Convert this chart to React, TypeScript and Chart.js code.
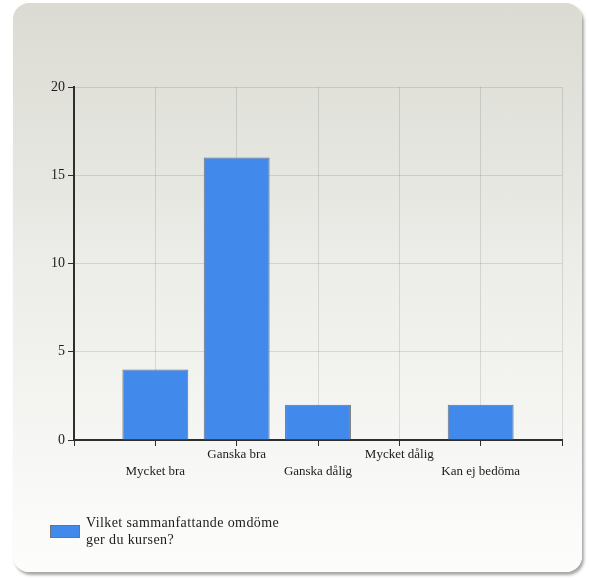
import React, { useEffect, useRef } from "react";
import { Chart, registerables } from "chart.js";

Chart.register(...registerables);

// ---- data ----
const categories = ["Mycket bra", "Ganska bra", "Ganska dålig", "Mycket dålig", "Kan ej bedöma"];
const counts = [4, 16, 2, 0, 2];
const seriesLabelLines = ["Vilket sammanfattande omdöme", "ger du kursen?"];
const yMin = 0;
const yMax = 20;
const yStep = 5;

// padded with empty slots on both ends so bars sit between the outer grid lines
const axisLabels = ["", ...categories, ""];
const axisValues: (number | null)[] = [null, ...counts, null];

const BAR_FILL = "#418aec";
const BAR_BORDER = "#727272";
const AXIS_COLOR = "#2e2e2e";
const GRID_COLOR = "rgba(0,0,0,0.11)";
const TEXT_COLOR = "#1c1c1c";
const SERIF = "'Liberation Serif', 'Times New Roman', serif";

const legendPlugin = {
  id: "blockLegend",
  afterDraw(chart: any) {
    const { ctx } = chart;
    const xScale = chart.scales.x;
    const ds = chart.data.datasets[0];
    const lineH = 17;
    const firstCenter = xScale.bottom + 43;
    const boxX = 50;
    const boxW = 30;
    const boxH = 13;
    const boxTop = firstCenter + lineH / 2 - boxH / 2;
    ctx.save();
    ctx.fillStyle = ds.backgroundColor;
    ctx.fillRect(boxX, boxTop, boxW, boxH);
    ctx.strokeStyle = ds.borderColor;
    ctx.lineWidth = 1;
    ctx.strokeRect(boxX + 0.5, boxTop + 0.5, boxW - 1, boxH - 1);
    ctx.fillStyle = TEXT_COLOR;
    ctx.font = `14px ${SERIF}`;
    try {
      (ctx as any).letterSpacing = "0.4px";
    } catch (e) {}
    ctx.textAlign = "left";
    ctx.textBaseline = "middle";
    seriesLabelLines.forEach((line, i) => {
      ctx.fillText(line, boxX + boxW + 6, firstCenter + i * lineH);
    });
    ctx.restore();
  },
};

export default function App() {
  const canvasRef = useRef<HTMLCanvasElement | null>(null);

  useEffect(() => {
    const canvas = canvasRef.current;
    if (!canvas) return;
    const chart = new Chart(canvas, {
      type: "bar",
      data: {
        labels: axisLabels,
        datasets: [
          {
            label: seriesLabelLines.join(" "),
            data: axisValues,
            backgroundColor: BAR_FILL,
            borderColor: BAR_BORDER,
            borderWidth: 1,
            categoryPercentage: 1,
            barPercentage: 0.81,
          },
        ],
      },
      options: {
        animation: false,
        responsive: false,
        maintainAspectRatio: false,
        layout: { padding: { top: 87, right: 27, bottom: 100, left: 0 } },
        plugins: {
          legend: { display: false },
          tooltip: { enabled: false },
        },
        scales: {
          x: {
            offset: false,
            grid: {
              offset: false,
              color: GRID_COLOR,
              tickColor: AXIS_COLOR,
              tickLength: 6,
            },
            border: { color: AXIS_COLOR, width: 2 },
            ticks: {
              autoSkip: false,
              maxRotation: 0,
              minRotation: 0,
              padding: 0,
              color: TEXT_COLOR,
              font: { family: SERIF, size: 13, lineHeight: 17 / 13 },
              callback: (_v: any, i: number) =>
                i % 2 === 1 ? ["", axisLabels[i]] : [axisLabels[i]],
            },
          },
          y: {
            min: yMin,
            max: yMax,
            grid: {
              color: GRID_COLOR,
              tickColor: AXIS_COLOR,
              tickLength: 6,
            },
            border: { color: AXIS_COLOR, width: 2 },
            ticks: {
              stepSize: yStep,
              padding: 3,
              color: TEXT_COLOR,
              font: { family: SERIF, size: 14 },
            },
            afterFit: (s: any) => {
              s.width = 74;
            },
          },
        },
      },
      plugins: [legendPlugin],
    });
    return () => chart.destroy();
  }, []);

  return (
    <div style={{ position: "absolute", left: 0, top: 0, width: 589, height: 580 }}>
      <div
        style={{
          position: "absolute",
          left: 13,
          top: 3,
          width: 569,
          height: 569,
          borderRadius: 16,
          background: "linear-gradient(to bottom, #dbdbd3 0%, #ecece8 45%, #fdfdfc 100%)",
          boxShadow: "2px 3px 3px rgba(0,0,0,0.35)",
        }}
      />
      <canvas
        ref={canvasRef}
        width={589}
        height={580}
        style={{ position: "absolute", left: 0, top: 0, width: 589, height: 580 }}
      />
    </div>
  );
}
